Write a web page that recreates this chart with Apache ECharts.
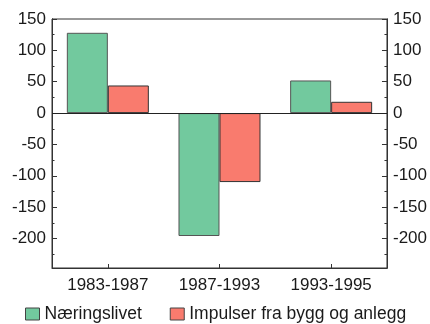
<!DOCTYPE html>
<html><head><meta charset="utf-8">
<script src="https://cdn.jsdelivr.net/npm/echarts@6/dist/echarts.min.js"></script>
<style>html,body{margin:0;padding:0;background:#fff}#c{width:430px;height:324px}</style>
</head><body><div id="c"></div>
<script>
var categories = ['1983-1987', '1987-1993', '1993-1995'];
var naeringslivet = [128, -196, 52];
var impulser = [44, -110, 18];
var yTickLabels = [150, 100, 50, 0, -50, -100, -150, -200];
var yMinorTicks = [125, 75, 25, -25, -75, -125, -175, -225];
var seriesNames = ['Næringslivet', 'Impulser fra bygg og anlegg'];

var YMIN = -247, YMAX = 150;
var font = 'Liberation Sans, Arial, sans-serif';
var txt = '#1a1a1a';
var line = '#333';

function yAx(pos, ticks, len, showLabel) {
  return {
    type: 'value', position: pos, min: YMIN, max: YMAX,
    splitLine: {show: false},
    axisLine: {show: true, lineStyle: {color: line, width: 1}},
    axisTick: {show: true, inside: true, length: len, customValues: ticks, lineStyle: {color: line}},
    axisLabel: {show: showLabel, customValues: ticks, color: txt, fontSize: 17, fontFamily: font, margin: 6}
  };
}

var chart = echarts.init(document.getElementById('c'));
chart.setOption({
  animation: false,
  backgroundColor: '#fff',
  grid: {left: 52, right: 43, top: 19, bottom: 56, show: true, borderColor: line, borderWidth: 1, backgroundColor: 'transparent'},
  legend: {
    left: 25, top: 305, padding: 0, itemWidth: 14, itemHeight: 12, itemGap: 28, itemTextGap: 4,
    icon: 'rect',
    textStyle: {color: txt, fontSize: 17.5, fontFamily: font},
    itemStyle: {borderColor: '#444', borderWidth: 1},
    data: seriesNames
  },
  xAxis: {
    type: 'category', data: categories,
    axisLine: {show: true, onZero: false, lineStyle: {color: line}},
    axisTick: {show: true, inside: true, alignWithLabel: true, length: 4, lineStyle: {color: line}},
    axisLabel: {color: txt, fontSize: 17, fontFamily: font, margin: 9},
    splitLine: {show: false}
  },
  yAxis: [
    yAx('left', yTickLabels, 5, true),
    yAx('right', yTickLabels, 5, true),
    yAx('left', yMinorTicks, 2.5, false),
    yAx('right', yMinorTicks, 2.5, false)
  ],
  series: [
    {
      name: seriesNames[0], type: 'bar', data: naeringslivet, barWidth: 41, barGap: '0%',
      itemStyle: {color: '#72c99e', borderColor: '#555', borderWidth: 1},
      markLine: {silent: true, symbol: 'none', label: {show: false},
        lineStyle: {color: '#222', type: 'solid', width: 1}, data: [{yAxis: 0}]}
    },
    {
      name: seriesNames[1], type: 'bar', data: impulser, barWidth: 41, barGap: '0%',
      itemStyle: {color: '#f97b6e', borderColor: '#333', borderWidth: 1}
    }
  ]
});
</script></body></html>
